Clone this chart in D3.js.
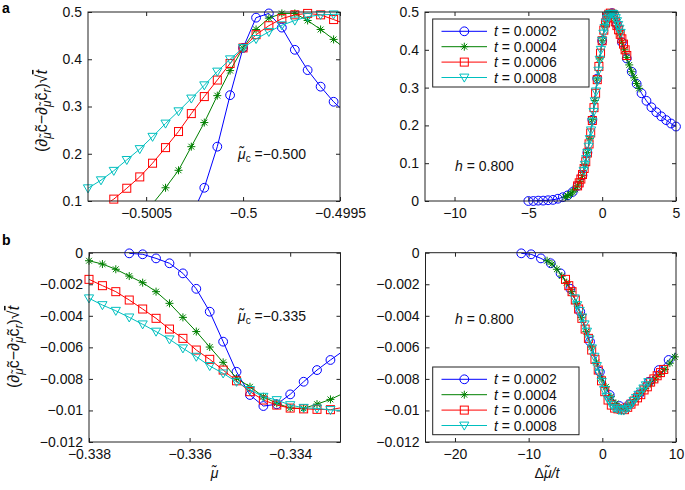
<!DOCTYPE html>
<html><head><meta charset="utf-8">
<script src="https://cdn.jsdelivr.net/npm/d3@7"></script>
<style>
body{margin:0;background:#fff;}
svg{display:block;font-family:"Liberation Sans",Arial,Helvetica,sans-serif;}
</style></head><body>
<svg id="chart" width="685" height="490"></svg>
<script>
// ---------- data ----------
const tValues = [0.0002, 0.0004, 0.0006, 0.0008];
const legendLabels = ["0.0002", "0.0004", "0.0006", "0.0008"];
const muCritA = -0.5;
const muCritB = -0.335;

// panel a: chemical potential grid and curves
const muA = [-0.501000,-0.500933,-0.500867,-0.500800,-0.500733,-0.500667,-0.500600,-0.500533,-0.500467,-0.500400,
  -0.500333,-0.500267,-0.500200,-0.500133,-0.500067,-0.500000,-0.499933,-0.499867,-0.499800,-0.499733,
  -0.499667,-0.499600,-0.499533,-0.499467,-0.499400,-0.499333,-0.499267,-0.499200,-0.499133,-0.499067,-0.499000];
const yA_t0002 = [0.000,0.000,0.001,0.001,0.002,0.003,0.006,0.010,0.015,0.024,0.040,0.068,0.128,0.215,0.324,0.424,
  0.488,0.497,0.467,0.420,0.377,0.342,0.310,0.285,0.265,0.248,0.235,0.224,0.214,0.205,0.197];
const yA_t0004 = [0.010,0.014,0.018,0.024,0.031,0.040,0.052,0.068,0.094,0.128,0.165,0.215,0.266,0.323,0.376,0.424,
  0.463,0.487,0.497,0.497,0.482,0.463,0.442,0.420,0.400,0.380,0.360,0.342,0.326,0.311,0.298];
const yA_t0006 = [0.040,0.048,0.058,0.070,0.086,0.104,0.127,0.151,0.180,0.213,0.247,0.285,0.321,0.356,0.391,0.424,
  0.452,0.471,0.486,0.494,0.497,0.494,0.484,0.474,0.464,0.453,0.441,0.429,0.415,0.400,0.385];
const yA_t0008 = [0.080,0.096,0.111,0.127,0.144,0.164,0.187,0.210,0.236,0.264,0.290,0.317,0.345,0.374,0.400,0.424,
  0.443,0.458,0.472,0.482,0.490,0.494,0.495,0.496,0.495,0.490,0.484,0.476,0.466,0.456,0.445];

// panel b
const muB = [-0.338000,-0.337733,-0.337467,-0.337200,-0.336933,-0.336667,-0.336400,-0.336133,-0.335867,-0.335600,
  -0.335333,-0.335067,-0.334800,-0.334533,-0.334267,-0.334000,-0.333733,-0.333467,-0.333200,-0.332933,
  -0.332667,-0.332400,-0.332133,-0.331867,-0.331600,-0.331333,-0.331067,-0.330800,-0.330533,-0.330267,-0.330000];
const yB_t0002 = [null,null,null,-0.00004,-0.0001,-0.00036,-0.00067,-0.00131,-0.00229,-0.00374,-0.00564,-0.00755,
  -0.00902,-0.00972,-0.00961,-0.00898,-0.00818,-0.00744,-0.0068,-0.0062,null,null,null,null,null,null,null,null,null,null,null];
const yB_t0004 = [-0.00051,-0.00072,-0.00105,-0.00148,-0.0019,-0.00247,-0.00321,-0.0041,-0.005,-0.00598,-0.00695,-0.00796,
  -0.0085,-0.00913,-0.00955,-0.00985,-0.00987,-0.0096,-0.0093,-0.0089,-0.0086,-0.0083,-0.008,-0.0077,-0.0074,-0.007,-0.0066,
  null,null,null,null];
const yB_t0006 = [-0.00169,-0.00209,-0.00247,-0.003,-0.00357,-0.00416,-0.00484,-0.00543,-0.00617,-0.00676,-0.00744,-0.00812,
  -0.00881,-0.00934,-0.00966,-0.00985,-0.0099,-0.00993,-0.00995,-0.0098,-0.0096,-0.0094,-0.0092,-0.009,-0.0087,-0.0085,
  -0.0082,-0.008,-0.0078,-0.0076,-0.0074];
const yB_t0008 = [-0.00289,-0.00332,-0.00368,-0.0041,-0.00454,-0.005,-0.00549,-0.00606,-0.00659,-0.00718,-0.00765,-0.00818,
  -0.0087,-0.00913,-0.00934,-0.00966,-0.00983,-0.00987,-0.00997,-0.01,-0.01,-0.0099,-0.0098,-0.0096,-0.0094,-0.0092,
  -0.009,-0.0088,-0.0086,-0.0084,-0.0082];

// ticks
const aLeftXTicks = [-0.5005, -0.5, -0.4995];
const aLeftXTickLabels = ["\u22120.5005", "\u22120.5", "\u22120.4995"];
const aYTicks = [0, 0.1, 0.2, 0.3, 0.4, 0.5];
const aYTickLabels = ["0", "0.1", "0.2", "0.3", "0.4", "0.5"];
const aRightXTicks = [-10, -5, 0, 5];
const aRightXTickLabels = ["\u221210", "\u22125", "0", "5"];
const bLeftXTicks = [-0.338, -0.336, -0.334];
const bLeftXTickLabels = ["\u22120.338", "\u22120.336", "\u22120.334"];
const bYTicks = [0, -0.002, -0.004, -0.006, -0.008, -0.01, -0.012];
const bYTickLabels = ["0", "\u22120.002", "\u22120.004", "\u22120.006", "\u22120.008", "\u22120.01", "\u22120.012"];
const bRightXTicks = [-20, -10, 0, 10];
const bRightXTickLabels = ["\u221220", "\u221210", "0", "10"];

// ---------- styles ----------
const colors = ["#0000ff", "#008000", "#ff0000", "#00bfbf"];
const markers = ["circle", "star", "square", "tri"];

const svg = d3.select("#chart");
const defs = svg.append("defs");
let clipN = 0;

function drawMarker(g, type, x, y, color) {
  if (type === "circle") {
    g.append("circle").attr("cx", x).attr("cy", y).attr("r", 4.4)
      .attr("fill", "none").attr("stroke", color).attr("stroke-width", 1);
  } else if (type === "square") {
    g.append("rect").attr("x", x - 4).attr("y", y - 4).attr("width", 8).attr("height", 8)
      .attr("fill", "none").attr("stroke", color).attr("stroke-width", 1);
  } else if (type === "tri") {
    g.append("path").attr("transform", `translate(${x},${y})`)
      .attr("d", "M-4.6,-3.4L4.6,-3.4L0,4.6Z")
      .attr("fill", "none").attr("stroke", color).attr("stroke-width", 1);
  } else {
    g.append("path").attr("transform", `translate(${x},${y})`)
      .attr("d", "M-4,0H4M0,-4V4M-2.9,-2.9L2.9,2.9M-2.9,2.9L2.9,-2.9")
      .attr("fill", "none").attr("stroke", color).attr("stroke-width", 1);
  }
}

function panel(cfg) {
  const b = cfg.box;
  const xs = d3.scaleLinear().domain(cfg.xDomain).range([b.x0, b.x1]);
  const ys = d3.scaleLinear().domain(cfg.yDomain).range([b.y1, b.y0]);
  const id = "clip" + (clipN++);
  defs.append("clipPath").attr("id", id).append("rect")
    .attr("x", b.x0).attr("y", b.y0).attr("width", b.x1 - b.x0).attr("height", b.y1 - b.y0);
  const g = svg.append("g");

  const fs = 14;
  const axB = d3.axisBottom(xs).tickValues(cfg.xTicks).tickFormat((d, i) => cfg.xTickLabels[i])
    .tickSizeInner(-4).tickSizeOuter(0).tickPadding(7);
  const axL = d3.axisLeft(ys).tickValues(cfg.yTicks).tickFormat((d, i) => cfg.yTickLabels[i])
    .tickSizeInner(-4).tickSizeOuter(0).tickPadding(6);
  const axT = d3.axisTop(xs).tickValues(cfg.xTicks).tickFormat("").tickSizeInner(-4).tickSizeOuter(0);
  const axR = d3.axisRight(ys).tickValues(cfg.yTicks).tickFormat("").tickSizeInner(-4).tickSizeOuter(0);
  const gb = g.append("g").attr("transform", `translate(0,${b.y1})`).call(axB);
  const gl = g.append("g").attr("transform", `translate(${b.x0},0)`).call(axL);
  const gt = g.append("g").attr("transform", `translate(0,${b.y0})`).call(axT);
  const gr = g.append("g").attr("transform", `translate(${b.x1},0)`).call(axR);
  [gb, gl, gt, gr].forEach(a => {
    a.select(".domain").remove();
    a.selectAll("line").attr("stroke", "#222");
    a.selectAll("text").attr("font-size", fs).attr("fill", "#111")
      .attr("font-family", '"Liberation Sans",Arial,Helvetica,sans-serif');
  });

  // series
  const plot = g.append("g");
  cfg.series.forEach((s, si) => {
    const pts = s.x.map((xv, i) => ({ x: xv, y: s.y[i] })).filter(p => p.y !== null);
    const line = d3.line().x(p => xs(p.x)).y(p => ys(p.y));
    const sg = plot.append("g");
    sg.append("path").attr("d", line(pts)).attr("fill", "none")
      .attr("stroke", colors[si]).attr("stroke-width", 1).attr("clip-path", `url(#${id})`);
    const [xa, xb] = d3.extent(cfg.xDomain);
    const [ya, yb] = d3.extent(cfg.yDomain);
    const ex = (xb - xa) * 0.002, ey = (yb - ya) * 0.002;
    pts.forEach(p => {
      if (p.x >= xa - ex && p.x <= xb + ex && p.y >= ya - ey && p.y <= yb + ey)
        drawMarker(sg, markers[si], xs(p.x), ys(p.y), colors[si]);
    });
  });

  g.append("rect").attr("x", b.x0).attr("y", b.y0).attr("width", b.x1 - b.x0).attr("height", b.y1 - b.y0)
    .attr("fill", "none").attr("stroke", "#222").attr("stroke-width", 1);
  return g;
}

function seriesFrom(mu, ys, transform) {
  return ys.map((yArr, i) => ({ x: mu.map(m => transform ? transform(m, tValues[i]) : m), y: yArr }));
}

const yAllA = [yA_t0002, yA_t0004, yA_t0006, yA_t0008];
const yAllB = [yB_t0002, yB_t0004, yB_t0006, yB_t0008];

panel({ box: { x0: 88, x1: 340, y0: 12, y1: 201 }, xDomain: [-0.5008, -0.4995], yDomain: [0.1, 0.5],
  xTicks: aLeftXTicks, xTickLabels: aLeftXTickLabels, yTicks: aYTicks.slice(1), yTickLabels: aYTickLabels.slice(1),
  series: seriesFrom(muA, yAllA) });
panel({ box: { x0: 425, x1: 676, y0: 12, y1: 201 }, xDomain: [-12, 5], yDomain: [0, 0.5],
  xTicks: aRightXTicks, xTickLabels: aRightXTickLabels, yTicks: aYTicks, yTickLabels: aYTickLabels,
  series: seriesFrom(muA, yAllA, (m, t) => (m - muCritA) / t) });
panel({ box: { x0: 89, x1: 340.5, y0: 252.7, y1: 442 }, xDomain: [-0.338, -0.333], yDomain: [-0.012, 0],
  xTicks: bLeftXTicks, xTickLabels: bLeftXTickLabels, yTicks: bYTicks, yTickLabels: bYTickLabels,
  series: seriesFrom(muB, yAllB) });
panel({ box: { x0: 425.5, x1: 676, y0: 252.7, y1: 442 }, xDomain: [-24, 10], yDomain: [-0.012, 0],
  xTicks: bRightXTicks, xTickLabels: bRightXTickLabels, yTicks: bYTicks, yTickLabels: bYTickLabels,
  series: seriesFrom(muB, yAllB, (m, t) => (m - muCritB) / t) });

// ---------- legends ----------
function legend(x0, y0, w, h) {
  const g = svg.append("g");
  g.append("rect").attr("x", x0).attr("y", y0).attr("width", w).attr("height", h)
    .attr("fill", "#fff").attr("stroke", "#222").attr("stroke-width", 1);
  tValues.forEach((t, i) => {
    const cy = y0 + 12.3 + i * 15.4;
    g.append("line").attr("x1", 441.5).attr("x2", 487).attr("y1", cy).attr("y2", cy)
      .attr("stroke", colors[i]).attr("stroke-width", 1);
    drawMarker(g, markers[i], 464.3, cy, colors[i]);
    const tx = g.append("text").attr("x", 494).attr("y", cy + 5).attr("font-size", 14).attr("fill", "#111");
    tx.append("tspan").attr("font-style", "italic").text("t");
    tx.append("tspan").text(" = " + legendLabels[i]);
  });
}
legend(432.7, 19, 156.3, 68);
legend(432.7, 367, 146.3, 67.7);

// ---------- texts ----------
function yLabel(cx, cy) {
  const t = svg.append("text").attr("transform", `translate(${cx},${cy}) rotate(-90)`)
    .attr("text-anchor", "middle").attr("font-size", 16).attr("fill", "#111");
  t.append("tspan").text("(\u2202");
  t.append("tspan").attr("dy", 4).attr("font-size", 12).attr("font-style", "italic").text("\u03bc\u0303");
  t.append("tspan").attr("dy", -4).text("c\u0303\u2212\u2202");
  t.append("tspan").attr("dy", 4).attr("font-size", 12).attr("font-style", "italic").text("\u03bc\u0303");
  t.append("tspan").attr("dy", -4).text("c\u0303");
  t.append("tspan").attr("dy", 4).attr("font-size", 12).attr("font-style", "italic").text("r");
  t.append("tspan").attr("dy", -4).text(")\u221a");
  t.append("tspan").attr("font-style", "italic").style("text-decoration", "overline").text("t");
}
yLabel(47, 111);
yLabel(19, 347);

function muLabel(x, y, val) {
  const t = svg.append("text").attr("x", x).attr("y", y).attr("font-size", 14).attr("fill", "#111");
  t.append("tspan").attr("font-style", "italic").text("\u03bc\u0303");
  t.append("tspan").attr("dy", 3).attr("font-size", 10).text("c");
  t.append("tspan").attr("dy", -3).text(" =\u2212" + val);
}
muLabel(238, 159, "0.500");
muLabel(238, 321, "0.335");

function hLabel(x, y) {
  const t = svg.append("text").attr("x", x).attr("y", y).attr("font-size", 14).attr("fill", "#111");
  t.append("tspan").attr("font-style", "italic").text("h");
  t.append("tspan").text(" = 0.800");
}
hLabel(455, 171);
hLabel(455, 324);

// x-axis titles
svg.append("text").attr("x", 214.5).attr("y", 478).attr("text-anchor", "middle").attr("font-size", 14)
  .attr("font-style", "italic").attr("fill", "#111").text("\u03bc\u0303");
const xt = svg.append("text").attr("x", 547).attr("y", 478).attr("text-anchor", "middle").attr("font-size", 14).attr("fill", "#111");
xt.append("tspan").text("\u0394");
xt.append("tspan").attr("font-style", "italic").text("\u03bc\u0303/t");

// panel letters
svg.append("text").attr("x", 2).attr("y", 13).attr("font-size", 14).attr("font-weight", "bold").attr("fill", "#000").text("a");
svg.append("text").attr("x", 2).attr("y", 245).attr("font-size", 14).attr("font-weight", "bold").attr("fill", "#000").text("b");
</script>
</body></html>
